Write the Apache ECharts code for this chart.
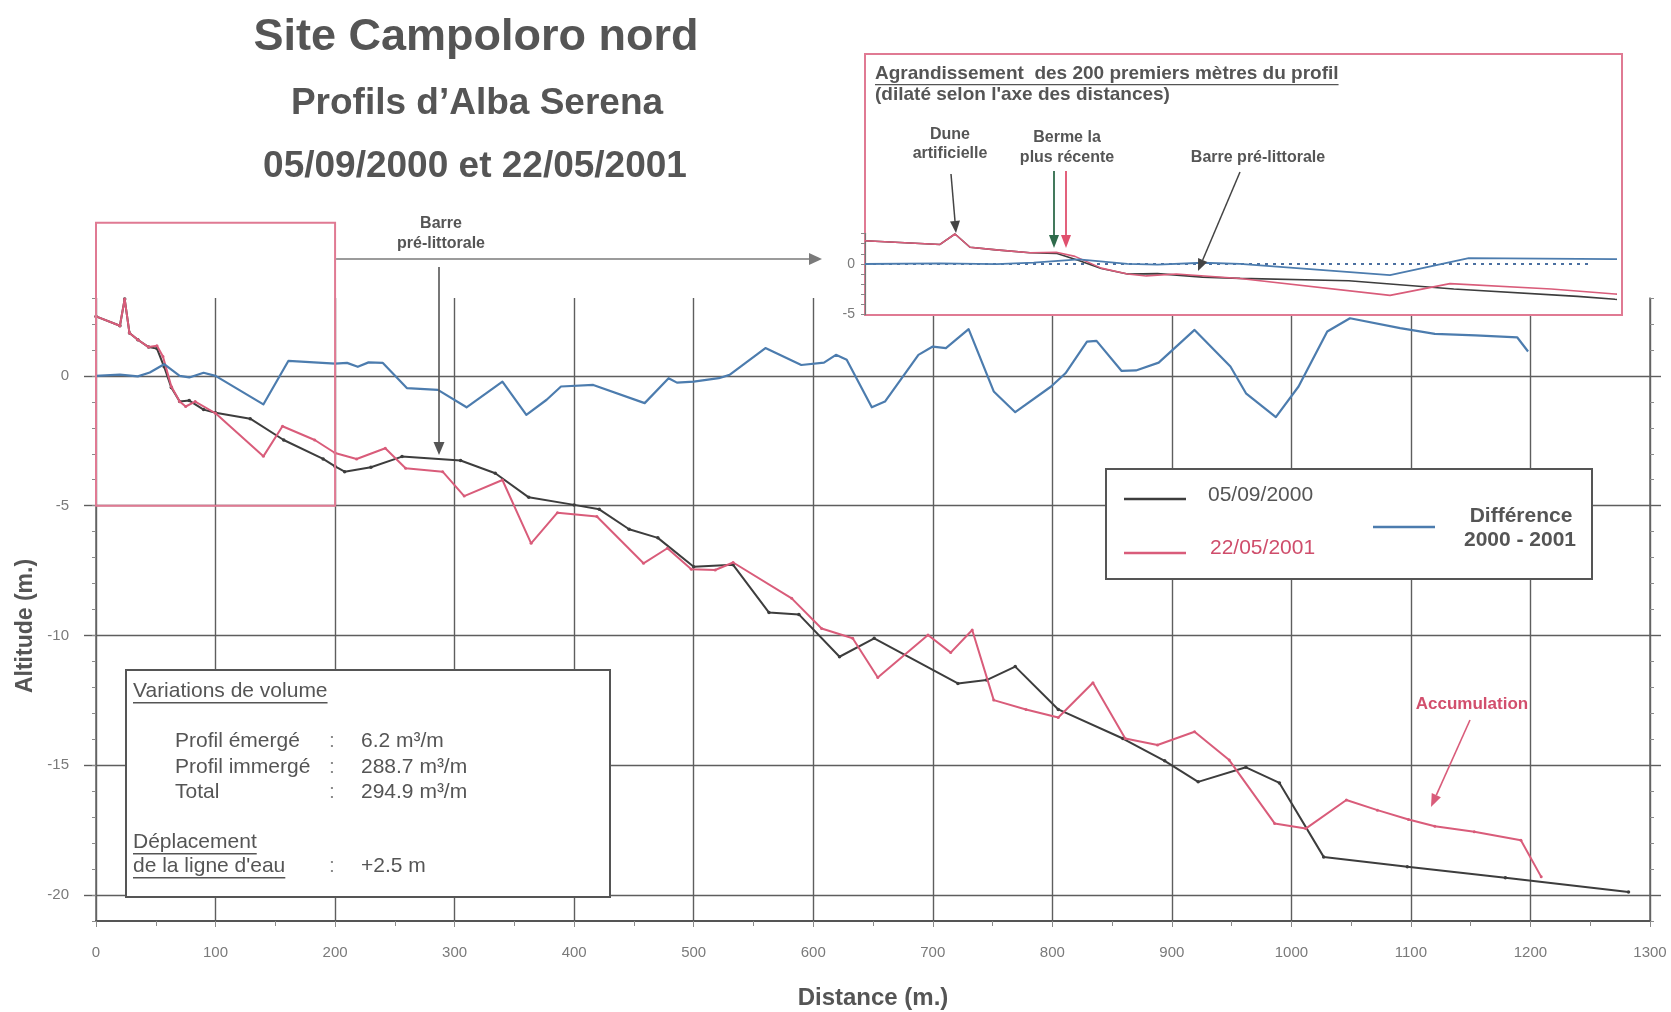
<!DOCTYPE html>
<html>
<head>
<meta charset="utf-8">
<title>Site Campoloro nord – Profils d'Alba Serena</title>
<script src="https://cdn.jsdelivr.net/npm/echarts@6/dist/echarts.min.js"></script>
<style>
  html, body { margin: 0; padding: 0; background: #fff; }
  #chart { width: 1671px; height: 1012px; }
</style>
</head>
<body>
<div id="chart"></div>
<script>
// Profile surveyed on 05/09/2000: [distance (m), altitude (m)]
const profil2000 = [
  [0, 2.29], [20, 1.93], [24, 2.96], [28, 1.65], [35, 1.39], [44, 1.11], [51, 1.05],
  [57, 0.35], [63, -0.45], [70, -0.99], [78, -0.95], [90, -1.3], [100, -1.42],
  [129, -1.65], [157, -2.47], [190, -3.2], [200, -3.49], [208, -3.69], [230, -3.52],
  [256, -3.11], [305, -3.26], [334, -3.75], [362, -4.68], [400, -4.97], [421, -5.14],
  [446, -5.91], [470, -6.24], [500, -7.35], [533, -7.28], [563, -9.12], [588, -9.19],
  [622, -10.82], [651, -10.11], [721, -11.85], [745, -11.72], [769, -11.2], [805, -12.85],
  [859, -13.97], [894, -14.83], [922, -15.64], [962, -15.08], [990, -15.68], [1027, -18.53],
  [1097, -18.91], [1179, -19.33], [1282, -19.88]
];

// Profile surveyed on 22/05/2001
const profil2001 = [
  [0, 2.29], [20, 1.93], [24, 2.96], [28, 1.65], [35, 1.39], [44, 1.11], [51, 1.16],
  [56, 0.75], [63, -0.41], [70, -0.99], [75, -1.18], [83, -0.99], [100, -1.44],
  [140, -3.1], [156, -1.94], [183, -2.47], [200, -2.97], [218, -3.2], [242, -2.79],
  [259, -3.56], [290, -3.69], [308, -4.63], [340, -4.01], [364, -6.45], [386, -5.27],
  [419, -5.42], [458, -7.22], [478, -6.64], [498, -7.45], [518, -7.48], [533, -7.19],
  [582, -8.57], [607, -9.73], [633, -10.11], [654, -11.62], [696, -9.98], [715, -10.66],
  [733, -9.79], [751, -12.49], [778, -12.85], [805, -13.16], [834, -11.82], [861, -13.97],
  [888, -14.22], [919, -13.71], [948, -14.8], [986, -17.24], [1012, -17.44], [1046, -16.34],
  [1072, -16.73], [1098, -17.09], [1120, -17.35], [1153, -17.56], [1192, -17.89], [1209, -19.3]
];

// Altitude difference between the two surveys
const difference = [
  [0, 0], [20, 0.05], [35, -0.02], [45, 0.13], [57, 0.45], [70, 0], [78, -0.06],
  [90, 0.12], [100, 0], [140, -1.1], [161, 0.58], [200, 0.47], [210, 0.5], [219, 0.35],
  [228, 0.52], [240, 0.5], [260, -0.47], [286, -0.54], [310, -1.21], [340, -0.22],
  [360, -1.5], [377, -0.92], [389, -0.41], [416, -0.35], [459, -1.05], [479, -0.09],
  [486, -0.26], [500, -0.22], [521, -0.09], [530, 0.04], [560, 1.07], [590, 0.42],
  [609, 0.51], [619, 0.81], [628, 0.62], [649, -1.21], [660, -0.99], [688, 0.81],
  [700, 1.13], [711, 1.07], [730, 1.8], [751, -0.6], [769, -1.4], [799, -0.41],
  [811, 0.1], [829, 1.32], [837, 1.35], [858, 0.19], [870, 0.21], [889, 0.51],
  [919, 1.77], [949, 0.36], [962, -0.67], [987, -1.59], [1006, -0.41], [1030, 1.71],
  [1049, 2.22], [1091, 1.84], [1120, 1.62], [1154, 1.56], [1189, 1.48], [1198, 0.94]
];

// Labelled altitudes (major ticks and horizontal grid lines)
const altitudeTicks = [0, -5, -10, -15, -20];
// Labelled altitudes of the enlarged view
const zoomTicks = [0, -5];
// Volume budget shown in the text box
const volumeRows = [
  ['Profil émergé', '6.2 m³/m'],
  ['Profil immergé', '288.7 m³/m'],
  ['Total', '294.9 m³/m']
];
const shorelineShift = '+2.5 m';

const FONT = '"Liberation Sans", Arial, Helvetica, sans-serif';
const C_BLACK = '#3d3d3d';
const C_RED = '#d95c7a';
const C_BLUE = '#4c7cae';
const C_GRID = '#5e5e5e';
const C_TEXT = '#555555';
const C_PINK = '#e07a93';

const chart = echarts.init(document.getElementById('chart'));

const option = {
  animation: false,
  backgroundColor: '#ffffff',
  grid: [
    { left: 96, right: 21, top: 298, bottom: 91 },
    { left: 865, width: 750, top: 233.6, height: 81 }
  ],
  xAxis: [
    {
      gridIndex: 0, type: 'value', min: 0, max: 1300, interval: 100,
      axisLine: { show: true, onZero: false, lineStyle: { color: '#555', width: 2 } },
      axisTick: { show: true, length: 6, lineStyle: { color: '#8a8a8a' } },
      minorTick: { show: true, splitNumber: 2, length: 5, lineStyle: { color: '#8a8a8a' } },
      axisLabel: { color: '#7a7a7a', fontSize: 15, margin: 24, fontFamily: FONT, formatter: v => String(v) },
      splitLine: { show: true, lineStyle: { color: C_GRID, width: 1.4 } }
    },
    {
      gridIndex: 1, type: 'value', min: 0, max: 200, show: false
    }
  ],
  yAxis: [
    {
      // labelled axis with major ticks and horizontal grid lines
      gridIndex: 0, type: 'value', min: -21, max: 3, position: 'left',
      axisLine: { show: false },
      axisTick: { show: true, length: 12, customValues: altitudeTicks, lineStyle: { color: C_GRID, width: 1.4 } },
      axisLabel: { show: true, customValues: altitudeTicks, color: '#7a7a7a', fontSize: 15, margin: 27, fontFamily: FONT },
      splitLine: { show: true, lineStyle: { color: C_GRID, width: 1.4 } }
    },
    {
      // minor ticks every metre
      gridIndex: 0, type: 'value', min: -21, max: 3, interval: 1, position: 'left',
      axisLine: { show: true, onZero: false, lineStyle: { color: '#666', width: 1.5 } },
      axisTick: { show: true, length: 4, lineStyle: { color: '#8a8a8a' } },
      axisLabel: { show: false },
      splitLine: { show: false }
    },
    {
      gridIndex: 0, type: 'value', min: -21, max: 3, interval: 1, position: 'right',
      axisLine: { show: true, onZero: false, lineStyle: { color: '#666', width: 1.5 } },
      axisTick: { show: true, length: 4, lineStyle: { color: '#8a8a8a' } },
      axisLabel: { show: false },
      splitLine: { show: false }
    },
    {
      gridIndex: 0, type: 'value', min: -21, max: 3, position: 'right',
      axisLine: { show: false },
      axisTick: { show: true, length: 11, customValues: altitudeTicks, lineStyle: { color: C_GRID, width: 1.4 } },
      axisLabel: { show: false },
      splitLine: { show: false }
    },
    {
      // enlarged view of the first 200 metres
      gridIndex: 1, type: 'value', min: -5, max: 3, interval: 1, position: 'left', z: 5,
      axisLine: { show: true, onZero: false, lineStyle: { color: '#777', width: 1.2 } },
      axisTick: { show: true, length: 4, lineStyle: { color: '#888' } },
      axisLabel: {
        color: '#7a7a7a', fontSize: 14, margin: 10, fontFamily: FONT,
        formatter: v => (zoomTicks.indexOf(v) >= 0 ? String(v) : '')
      },
      splitLine: { show: false }
    }
  ],
  series: [
    {
      name: '05/09/2000', type: 'line', xAxisIndex: 0, yAxisIndex: 0, z: 3,
      data: profil2000, symbol: 'circle', symbolSize: 3.5,
      lineStyle: { color: C_BLACK, width: 2 }, itemStyle: { color: C_BLACK }
    },
    {
      name: '22/05/2001', type: 'line', xAxisIndex: 0, yAxisIndex: 0, z: 4,
      data: profil2001, symbol: 'circle', symbolSize: 3,
      lineStyle: { color: C_RED, width: 2 }, itemStyle: { color: C_RED }
    },
    {
      name: 'Différence 2000 - 2001', type: 'line', xAxisIndex: 0, yAxisIndex: 0, z: 5,
      data: difference, symbol: 'none',
      lineStyle: { color: C_BLUE, width: 2.2, join: 'round' }
    },
    {
      type: 'line', xAxisIndex: 1, yAxisIndex: 4, z: 6, data: profil2000, symbol: 'none',
      lineStyle: { color: C_BLACK, width: 1.6 }
    },
    {
      type: 'line', xAxisIndex: 1, yAxisIndex: 4, z: 7, data: profil2001, symbol: 'none',
      lineStyle: { color: C_RED, width: 1.6 }
    },
    {
      type: 'line', xAxisIndex: 1, yAxisIndex: 4, z: 8, data: difference, symbol: 'none',
      lineStyle: { color: C_BLUE, width: 1.8 },
      markLine: {
        silent: true, symbol: 'none', label: { show: false },
        lineStyle: { color: '#4a6fa0', type: [3, 5], width: 2.2 },
        data: [[{ coord: [0, 0] }, { coord: [194, 0] }]]
      }
    }
  ]
};

chart.setOption(option);

// ---- annotations ----
const measureCtx = document.createElement('canvas').getContext('2d');
function textWidth(s, size, weight) {
  measureCtx.font = (weight || 'normal') + ' ' + size + 'px ' + FONT;
  return measureCtx.measureText(s).width;
}
function txt(x, y, s, size, o) {
  o = o || {};
  return {
    type: 'text', x: x, y: y, z: 30, silent: true, rotation: o.rotation || 0,
    style: {
      text: s, fill: o.color || C_TEXT, fontSize: size, fontWeight: o.weight || 'normal',
      fontFamily: FONT, align: o.align || 'left', verticalAlign: 'middle',
      textAlign: o.align || 'left', textVerticalAlign: 'middle'
    }
  };
}
function underline(x, y, s, size, weight, color) {
  const w = textWidth(s, size, weight);
  const yy = y + size * 0.56;
  return {
    type: 'line', z: 30, silent: true,
    shape: { x1: x, y1: yy, x2: x + w, y2: yy },
    style: { stroke: color || C_TEXT, lineWidth: 1.3 }
  };
}
function arrow(x1, y1, x2, y2, color, w, hl, hw) {
  const a = Math.atan2(y2 - y1, x2 - x1);
  const bx = x2 - hl * Math.cos(a), by = y2 - hl * Math.sin(a);
  const px = -Math.sin(a) * hw / 2, py = Math.cos(a) * hw / 2;
  return [
    { type: 'line', z: 28, silent: true, shape: { x1: x1, y1: y1, x2: bx, y2: by },
      style: { stroke: color, lineWidth: w } },
    { type: 'polygon', z: 28, silent: true,
      shape: { points: [[x2, y2], [bx + px, by + py], [bx - px, by - py]] },
      style: { fill: color } }
  ];
}
function box(x, y, w, h, stroke, lw, z) {
  return { type: 'rect', z: z, silent: true, shape: { x: x, y: y, width: w, height: h },
    style: { fill: '#ffffff', stroke: stroke, lineWidth: lw } };
}

const g = [];

// titles
g.push(txt(476, 38, 'Site Campoloro nord', 45, { weight: 'bold', align: 'center' }));
g.push(txt(477, 104, "Profils d\u2019Alba Serena", 37, { weight: 'bold', align: 'center' }));
g.push(txt(475, 167, '05/09/2000 et 22/05/2001', 37, { weight: 'bold', align: 'center' }));

// axis names
g.push(txt(26, 626, 'Altitude (m.)', 23, { weight: 'bold', align: 'center', rotation: Math.PI / 2 }));
g.push(txt(873, 998, 'Distance (m.)', 24, { weight: 'bold', align: 'center' }));

// frame around the first 200 metres of the profile
const pA = chart.convertToPixel({ gridIndex: 0 }, [0, -5]);
const pB = chart.convertToPixel({ gridIndex: 0 }, [200, 5.9]);
g.push({ type: 'rect', z: 9, silent: true,
  shape: { x: pA[0], y: pB[1], width: pB[0] - pA[0], height: pA[1] - pB[1] },
  style: { fill: 'none', stroke: C_PINK, lineWidth: 2 } });

// pointer to the enlarged view
g.push.apply(g, arrow(pB[0] + 1, 259, 822, 259, '#7a7a7a', 1.5, 13, 12));

// sandbar annotation on the main profile
g.push(txt(441, 224, 'Barre', 16, { weight: 'bold', align: 'center' }));
g.push(txt(441, 244, 'pré-littorale', 16, { weight: 'bold', align: 'center' }));
g.push.apply(g, arrow(439, 267, 439, 455, '#555', 1.6, 13, 11));

// enlarged view frame (white background hides the grid beneath)
g.push(box(865, 54, 757, 261, C_PINK, 2, 1));
g.push(txt(875, 74, 'Agrandissement  des 200 premiers mètres du profil', 19, { weight: 'bold' }));
g.push(underline(875, 74, 'Agrandissement  des 200 premiers mètres du profil', 19, 'bold'));
g.push(txt(875, 95, "(dilaté selon l'axe des distances)", 19, { weight: 'bold' }));

g.push(txt(950, 135, 'Dune', 16, { weight: 'bold', align: 'center' }));
g.push(txt(950, 154, 'artificielle', 16, { weight: 'bold', align: 'center' }));
g.push(txt(1067, 138, 'Berme la', 16, { weight: 'bold', align: 'center' }));
g.push(txt(1067, 158, 'plus récente', 16, { weight: 'bold', align: 'center' }));
g.push(txt(1258, 158, 'Barre pré-littorale', 16, { weight: 'bold', align: 'center' }));
g.push.apply(g, arrow(951, 174, 956, 233, '#444', 1.5, 12, 10));
g.push.apply(g, arrow(1054, 171, 1054, 248, '#2f6b4b', 1.8, 13, 10));
g.push.apply(g, arrow(1066, 171, 1066, 248, '#e0506e', 1.8, 13, 10));
g.push.apply(g, arrow(1240, 172, 1198, 271, '#444', 1.5, 12, 10));

// legend
g.push(box(1106, 469, 486, 110, '#555', 2, 1));
g.push({ type: 'line', z: 30, silent: true, shape: { x1: 1124, y1: 499, x2: 1186, y2: 499 },
  style: { stroke: C_BLACK, lineWidth: 2.5 } });
g.push({ type: 'line', z: 30, silent: true, shape: { x1: 1124, y1: 553, x2: 1186, y2: 553 },
  style: { stroke: C_RED, lineWidth: 2.5 } });
g.push({ type: 'line', z: 30, silent: true, shape: { x1: 1373, y1: 527, x2: 1435, y2: 527 },
  style: { stroke: C_BLUE, lineWidth: 2.5 } });
g.push(txt(1208, 495, '05/09/2000', 21));
g.push(txt(1210, 548, '22/05/2001', 21, { color: '#cf4d6b' }));
g.push(txt(1521, 516, 'Différence', 21, { weight: 'bold', align: 'center' }));
g.push(txt(1520, 540, '2000 - 2001', 21, { weight: 'bold', align: 'center' }));

// volume budget box
g.push(box(126, 670, 484, 227, '#555', 2, 1));
g.push(txt(133, 691, 'Variations de volume', 21));
g.push(underline(133, 691, 'Variations de volume', 21));
const rowY = [741, 767, 792];
volumeRows.forEach((r, i) => {
  g.push(txt(175, rowY[i], r[0], 21));
  g.push(txt(329, rowY[i], ':', 21, { color: '#8a8a8a' }));
  g.push(txt(361, rowY[i], r[1], 21));
});
g.push(txt(133, 842, 'Déplacement', 21));
g.push(underline(133, 842, 'Déplacement', 21));
g.push(txt(133, 866, "de la ligne d'eau", 21));
g.push(underline(133, 866, "de la ligne d'eau", 21));
g.push(txt(329, 866, ':', 21, { color: '#8a8a8a' }));
g.push(txt(361, 866, shorelineShift, 21));

// accumulation annotation
g.push(txt(1472, 704, 'Accumulation', 17, { weight: 'bold', align: 'center', color: '#d24f6d' }));
g.push.apply(g, arrow(1470, 720, 1431, 807, C_RED, 1.6, 13, 10));

chart.setOption({ graphic: { elements: g } });
</script>
</body>
</html>
